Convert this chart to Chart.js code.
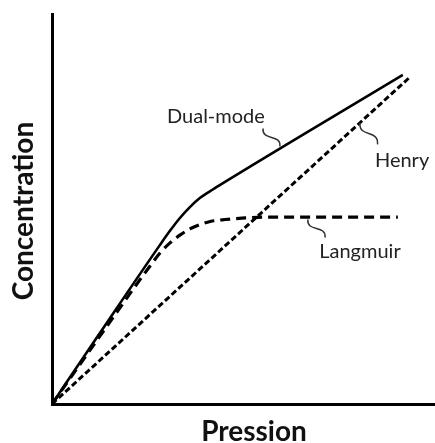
<!DOCTYPE html>
<html>
<head>
<meta charset="utf-8">
<script src="https://cdn.jsdelivr.net/npm/chart.js@4/dist/chart.umd.min.js"></script>
<style>
html,body{margin:0;padding:0;background:#fff;}
#wrap{width:435px;height:443px;}
</style>
</head>
<body>
<div id="wrap"><canvas id="c" width="435" height="443"></canvas></div>
<script>
// Values (arbitrary units, 0-100 on both axes)
const dualX = [0, 12.5, 28.2, 30.8, 33.4, 36.0, 38.6, 41.3, 43.9, 91.6];
const dualY = [0, 18.2, 40.8, 44.4, 47.7, 50.5, 52.8, 54.6, 56.2, 84.4];
const langX = [0, 12.5, 25.6, 28.2, 30.8, 33.4, 36.0, 38.6, 41.3, 45.2, 50.4, 55.6, 90.3];
const langY = [0, 17.4, 35.4, 38.7, 41.3, 43.3, 44.9, 46.0, 46.8, 47.3, 47.7, 47.9, 47.9];
const henryX = [0, 93.2];
const henryY = [0, 83.6];
const seriesNames = ["Dual-mode", "Langmuir", "Henry"];
const xTitle = "Pression";
const yTitle = "Concentration";
// annotation anchors (data units): label centre, leader start, leader end
const labelPos = [
  {name: "Dual-mode", lx: 42.8, ly: 72.1, ax: 55.1, ay: 70.5, bx: 59.5, by: 66.2},
  {name: "Henry",     lx: 91.4, ly: 60.8, ax: 80.4, ay: 72.0, bx: 85.0, by: 66.7},
  {name: "Langmuir",  lx: 80.4, ly: 37.4, ax: 66.8, ay: 47.2, bx: 71.3, by: 42.8}
];

const pts = (xs, ys) => xs.map((x, i) => ({x: x, y: ys[i]}));

const annot = {
  id: 'annot',
  afterDraw(chart) {
    const ctx = chart.ctx, xs = chart.scales.x, ys = chart.scales.y, ca = chart.chartArea;
    ctx.save();
    ctx.strokeStyle = '#333';
    ctx.lineWidth = 1.5;
    ctx.lineCap = 'round';
    ctx.fillStyle = '#222';
    ctx.font = '20px Lato';
    ctx.textAlign = 'center';
    ctx.textBaseline = 'alphabetic';
    labelPos.forEach(p => {
      const x0 = xs.getPixelForValue(p.ax), y0 = ys.getPixelForValue(p.ay);
      const x1 = xs.getPixelForValue(p.bx), y1 = ys.getPixelForValue(p.by);
      const dy = y1 - y0;
      ctx.beginPath();
      ctx.moveTo(x0, y0);
      ctx.bezierCurveTo(x0 - 1, y0 + dy * 0.7, x1 + 1, y1 - dy * 0.7, x1, y1);
      ctx.stroke();
      ctx.fillText(p.name, xs.getPixelForValue(p.lx), ys.getPixelForValue(p.ly));
    });
    ctx.fillStyle = '#111';
    ctx.font = 'bold 28px Lato';
    ctx.fillText(xTitle, 254, 441);
    ctx.translate(33, (ca.top + ca.bottom) / 2 + 2);
    ctx.rotate(-Math.PI / 2);
    ctx.fillText(yTitle, 0, 0);
    ctx.restore();
  }
};

new Chart(document.getElementById('c'), {
  type: 'line',
  data: {
    datasets: [
      {label: seriesNames[0], data: pts(dualX, dualY), borderColor: '#000', borderWidth: 2.6,
       pointRadius: 0, cubicInterpolationMode: 'monotone', fill: false},
      {label: seriesNames[1], data: pts(langX, langY), borderColor: '#000', borderWidth: 3.2,
       borderDash: [10, 6], pointRadius: 0, cubicInterpolationMode: 'monotone', fill: false},
      {label: seriesNames[2], data: pts(henryX, henryY), borderColor: '#000', borderWidth: 3,
       borderDash: [6, 3], pointRadius: 0, fill: false}
    ]
  },
  options: {
    responsive: false,
    animation: false,
    events: [],
    layout: {padding: {left: 52, top: 14, right: 0, bottom: 39}},
    plugins: {legend: {display: false}, tooltip: {enabled: false}, title: {display: false}},
    scales: {
      x: {type: 'linear', min: 0, max: 100,
          grid: {display: false, drawTicks: false},
          ticks: {display: false},
          border: {display: true, color: '#000', width: 3}},
      y: {type: 'linear', min: 0, max: 100,
          grid: {display: false, drawTicks: false},
          ticks: {display: false},
          border: {display: true, color: '#000', width: 3}}
    }
  },
  plugins: [annot]
});
</script>
</body>
</html>
